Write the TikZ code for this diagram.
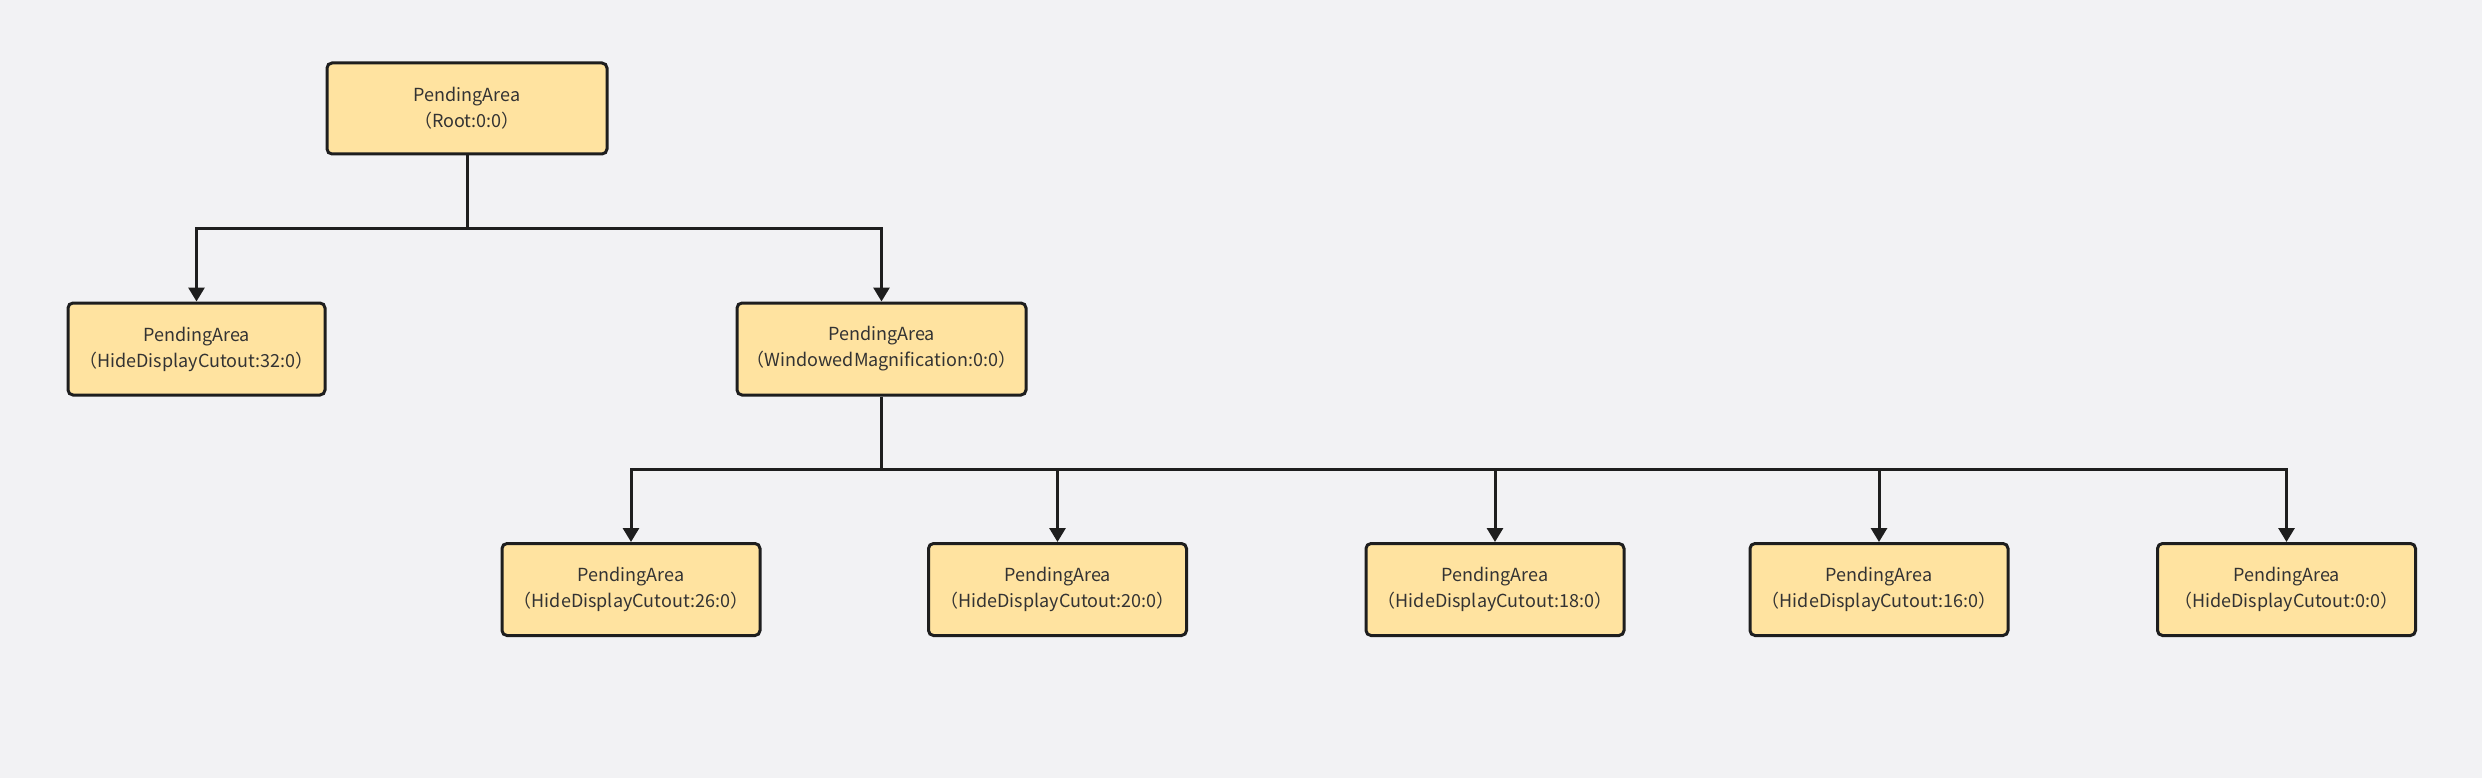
\documentclass[tikz,border=0pt]{standalone}
\usepackage{fontspec}
\setmainfont{Noto Sans CJK SC}
\usetikzlibrary{arrows.meta}
\definecolor{bg}{HTML}{F2F2F4}
\definecolor{boxfill}{HTML}{FFE3A0}
\definecolor{boxline}{HTML}{1E1E1E}
\definecolor{txt}{HTML}{333333}
\tikzset{
  area/.style={draw=boxline, line width=3pt, fill=boxfill, rounded corners=5pt,
    minimum height=92pt, align=center, text=txt, inner sep=0pt,
    font=\fontsize{18pt}{26pt}\selectfont},
  conn/.style={draw=boxline, line width=3pt},
  arr/.style={conn, -{Triangle[length=14pt,width=16pt]}},
}
\begin{document}
\begin{tikzpicture}[x=1pt,y=-1pt]
\fill[bg] (0,0) rectangle (2482,778);
\useasboundingbox (0,0) rectangle (2482,778);
\node[area, minimum width=280pt, minimum height=91pt] (root) at (467,108.5) {PendingArea\\（Root:0:0）};
\node[area, minimum width=257pt] (c32) at (196.5,349) {PendingArea\\（HideDisplayCutout:32:0）};
\node[area, minimum width=289pt] (wm) at (881.5,349) {PendingArea\\（WindowedMagnification:0:0）};
\node[area, minimum width=258pt] (c26) at (631,589.5) {PendingArea\\（HideDisplayCutout:26:0）};
\node[area, minimum width=258pt] (c20) at (1057.5,589.5) {PendingArea\\（HideDisplayCutout:20:0）};
\node[area, minimum width=258pt] (c18) at (1495,589.5) {PendingArea\\（HideDisplayCutout:18:0）};
\node[area, minimum width=258pt] (c16) at (1879,589.5) {PendingArea\\（HideDisplayCutout:16:0）};
\node[area, minimum width=258pt] (c0) at (2286.5,589.5) {PendingArea\\（HideDisplayCutout:0:0）};
\coordinate (j1) at (467,229);
\coordinate (j2) at (881.5,469);
\draw[conn] (root.south) -- (j1);
\draw[arr] (j1) -| (c32.north);
\draw[arr] (j1) -| (wm.north);
\draw[conn] (wm.south) -- (j2);
\draw[arr] (j2) -| (c26.north);
\draw[arr] (j2) -| (c20.north);
\draw[arr] (j2) -| (c18.north);
\draw[arr] (j2) -| (c16.north);
\draw[arr] (j2) -| (c0.north);
\end{tikzpicture}
\end{document}
